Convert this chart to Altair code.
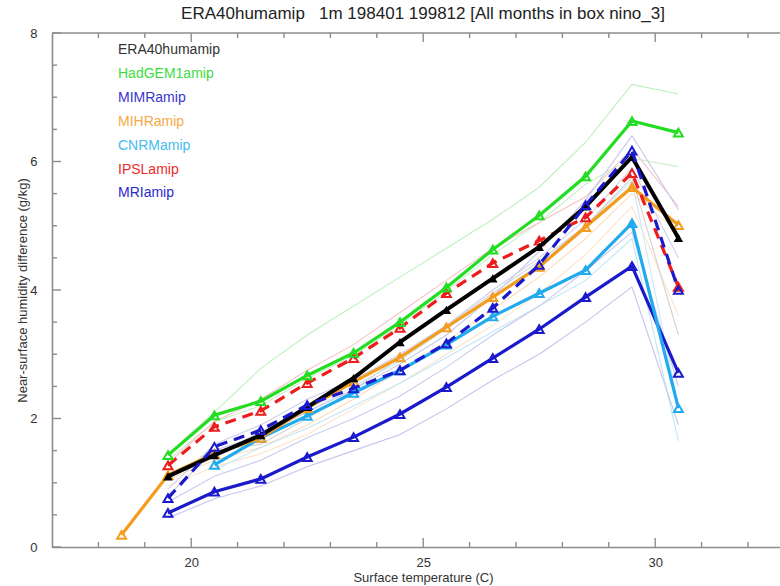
import altair as alt
import pandas as pd

# ---------------- data ----------------
temps = [18.5, 19.5, 20.5, 21.5, 22.5, 23.5, 24.5, 25.5, 26.5, 27.5, 28.5, 29.5, 30.5]

era40 = [None, 1.10, 1.43, 1.74, 2.18, 2.63, 3.19, 3.69, 4.18, 4.67, 5.30, 6.07, 4.81]
hadgem = [None, 1.43, 2.05, 2.27, 2.67, 3.02, 3.50, 4.04, 4.63, 5.16, 5.77, 6.63, 6.45]
mimr = [None, 0.76, 1.56, 1.82, 2.21, 2.47, 2.75, 3.17, 3.72, 4.39, 5.32, 6.17, 4.00]
mihr = [0.19, 1.12, 1.45, 1.70, 2.16, 2.57, 2.95, 3.42, 3.89, 4.36, 4.98, 5.60, 5.01]
cnrm = [None, None, 1.28, 1.70, 2.04, 2.40, 2.75, 3.15, 3.59, 3.95, 4.31, 5.04, 2.16]
ipsl = [None, 1.27, 1.87, 2.12, 2.55, 2.94, 3.41, 3.95, 4.42, 4.77, 5.13, 5.82, 4.05]
mri = [None, 0.53, 0.86, 1.06, 1.40, 1.71, 2.07, 2.49, 2.94, 3.39, 3.89, 4.37, 2.71]

# faint background curves (19.5 .. 30.5)
faint_temps = temps[1:]
faint_g1 = [1.45, 2.10, 2.78, 3.30, 3.75, 4.20, 4.65, 5.10, 5.60, 6.30, 7.20, 7.05]
faint_g2 = [1.35, 1.95, 2.20, 2.62, 2.98, 3.45, 3.98, 4.55, 5.05, 5.65, 6.05, 5.92]
faint_r = [1.30, 1.95, 2.30, 2.75, 3.15, 3.65, 4.15, 4.65, 5.05, 5.45, 6.20, 5.30]
faint_o1 = [1.05, 1.35, 1.55, 1.90, 2.30, 2.75, 3.20, 3.70, 4.20, 4.80, 5.50, 4.90]
faint_o2 = [0.95, 1.25, 1.45, 1.75, 2.15, 2.55, 3.00, 3.45, 3.95, 4.55, 5.30, 3.60]
faint_lb1 = [None, 1.20, 1.55, 1.85, 2.20, 2.55, 2.95, 3.35, 3.75, 4.15, 4.80, 1.65]
faint_lb2 = [None, 1.40, 1.80, 2.10, 2.50, 2.90, 3.40, 3.90, 4.40, 5.00, 5.70, 2.20]
faint_b1 = [0.45, 0.75, 0.95, 1.25, 1.50, 1.75, 2.15, 2.60, 3.00, 3.50, 4.05, 1.90]
faint_b2 = [0.70, 1.10, 1.35, 1.70, 2.00, 2.35, 2.80, 3.30, 3.75, 4.30, 4.90, 2.50]
faint_b3 = [0.80, 1.50, 1.75, 2.10, 2.45, 2.85, 3.30, 3.90, 4.60, 5.40, 6.40, 5.25]
faint_b4 = [0.90, 1.60, 1.90, 2.30, 2.60, 3.00, 3.45, 4.00, 4.50, 5.10, 5.90, 4.50]
faint_gr = [1.10, 1.50, 1.60, 2.00, 2.45, 2.95, 3.45, 3.95, 4.45, 5.00, 5.75, 3.30]

faint_series = [
    ("g1", faint_g1, "#bdf0bd"), ("g2", faint_g2, "#c8f0c8"), ("r", faint_r, "#f5c4c4"),
    ("o1", faint_o1, "#fcdcba"), ("o2", faint_o2, "#fde4c8"), ("lb1", faint_lb1, "#c0e6f6"),
    ("lb2", faint_lb2, "#c8eaf8"), ("b1", faint_b1, "#c4c4ee"), ("b2", faint_b2, "#cacaf0"),
    ("b3", faint_b3, "#c6c6ec"), ("b4", faint_b4, "#cfcff2"), ("gr", faint_gr, "#d2d2d2"),
]

legend_names = ["ERA40humamip", "HadGEM1amip", "MIMRamip", "MIHRamip", "CNRMamip", "IPSLamip", "MRIamip"]
legend_colors = ["#333333", "#3ddd3d", "#3535cc", "#f5aa45", "#45bbee", "#ee2a2a", "#2a2acc"]

# main series: name, values, colour, dash, filled
main_series = [
    ("MRIamip", mri, "#1a1acc", None, False),
    ("CNRMamip", cnrm, "#22aaee", None, False),
    ("MIHRamip", mihr, "#f39c1e", None, False),
    ("IPSLamip", ipsl, "#ee1c1c", [11, 7], False),
    ("HadGEM1amip", hadgem, "#22dd22", None, False),
    ("ERA40humamip", era40, "#000000", None, True),
    ("MIMRamip", mimr, "#1a1acc", [11, 7], False),
]

x_major = [20, 25, 30]
x_minor = [18, 19, 21, 22, 23, 24, 26, 27, 28, 29, 31, 32]
y_major = [0, 2, 4, 6, 8]
y_minor = [0.5, 1, 1.5, 2.5, 3, 3.5, 4.5, 5, 5.5, 6.5, 7, 7.5]

W, H = 728, 514
FONT = "Liberation Sans"
AX = "#8c8c8c"
XMIN, XMAX = 17, 32.69

xscale = alt.Scale(domain=[XMIN, XMAX], nice=False, zero=False)
yscale = alt.Scale(domain=[0, 8], nice=False, zero=False)

rows = []
for name, vals, col in faint_series:
    for t, v in zip(faint_temps, vals):
        if v is not None:
            rows.append({"t": t, "v": v, "s": name})
faint_df = pd.DataFrame(rows)

# ---------------- frame and inward ticks (drawn first) ----------------
layers = []
tick_style = dict(color=AX, strokeWidth=1.4)


def xticks(vals, length):
    d = pd.DataFrame({"tk": vals})
    b = alt.Chart(d).mark_rule(**tick_style).encode(
        x=alt.X("tk:Q", scale=xscale), y=alt.value(H - length), y2=alt.value(H))
    t = alt.Chart(d).mark_rule(**tick_style).encode(
        x=alt.X("tk:Q", scale=xscale), y=alt.value(0), y2=alt.value(length))
    return [b, t]


def yticks(vals, length):
    d = pd.DataFrame({"vk": vals})
    return [alt.Chart(d).mark_rule(**tick_style).encode(
        y=alt.Y("vk:Q", scale=yscale), x=alt.value(0), x2=alt.value(length))]


layers += xticks(x_major, 9) + xticks(x_minor, 5) + yticks(y_major, 9) + yticks(y_minor, 5)

top_df = pd.DataFrame({"x0": [XMIN], "x1": [XMAX], "y0": [8]})
layers.append(alt.Chart(top_df).mark_rule(color=AX, strokeWidth=1.6).encode(
    x=alt.X("x0:Q", scale=xscale), x2="x1:Q", y=alt.Y("y0:Q", scale=yscale)))

# ---------------- faint lines (carry the axes) ----------------
faint = alt.Chart(faint_df).mark_line(strokeWidth=1.1).encode(
    x=alt.X("t:Q", scale=xscale,
            axis=alt.Axis(values=x_major, format="d", title="Surface temperature (C)", grid=False,
                          ticks=False, domainColor=AX, domainWidth=1.6, labelPadding=9, labelFontSize=13,
                          labelFont=FONT, labelColor="#333333", titleFont=FONT, titleFontSize=13,
                          titleFontWeight="normal", titleColor="#333333", titleX=371, titleY=30,
                          titleBaseline="middle", titleAlign="center")),
    y=alt.Y("v:Q", scale=yscale,
            axis=alt.Axis(values=y_major, format="d", title="Near-surface humidity difference (g/kg)",
                          grid=False, ticks=False, domainColor=AX, domainWidth=1.6, labelPadding=15,
                          labelFontSize=13, labelFont=FONT, labelColor="#333333", titleFont=FONT,
                          titleFontSize=13, titleFontWeight="normal", titleColor="#333333",
                          titleX=-30, titleY=257, titleAngle=-90, titleBaseline="middle",
                          titleAlign="center")),
    color=alt.Color("s:N", scale=alt.Scale(domain=[s[0] for s in faint_series],
                                           range=[s[2] for s in faint_series]), legend=None),
    detail="s:N",
)
layers.append(faint)

# ---------------- main series ----------------
for name, vals, col, dash, filled in main_series:
    d = pd.DataFrame({"t": temps, "v": vals}).dropna()
    lk = dict(color=col, strokeWidth=4 if name == "ERA40humamip" else 3.2)
    if dash:
        lk["strokeDash"] = dash
    line = alt.Chart(d).mark_line(**lk).encode(
        x=alt.X("t:Q", scale=xscale), y=alt.Y("v:Q", scale=yscale))
    pts = alt.Chart(d).mark_point(shape="triangle-up", size=90 if filled else 80, filled=filled,
                                  color=col, strokeWidth=2, opacity=1).encode(
        x=alt.X("t:Q", scale=xscale), y=alt.Y("v:Q", scale=yscale))
    layers += [line, pts]

# ---------------- legend text ----------------
for i, (nm, col) in enumerate(zip(legend_names, legend_colors)):
    layers.append(
        alt.Chart(pd.DataFrame({"name": [nm]})).mark_text(
            align="left", baseline="middle", fontSize=14, font=FONT, color=col).encode(
            x=alt.value(66), y=alt.value(17 + i * 23.9), text="name:N"))

chart = alt.layer(*layers).properties(
    width=W, height=H,
    padding={"left": 52, "top": 33, "right": 0, "bottom": 39},
    autosize=alt.AutoSizeParams(type="none"),
    title=alt.TitleParams("ERA40humamip\u00a0\u00a0\u00a01m 198401 199812 [All months in box nino_3]",
                          anchor="middle", dx=7, fontSize=17, font=FONT, fontWeight="normal",
                          color="#222222", offset=4),
    background="white",
).configure_view(stroke=None)

chart.save("out.html", embed_options={"renderer": "svg", "actions": False})
